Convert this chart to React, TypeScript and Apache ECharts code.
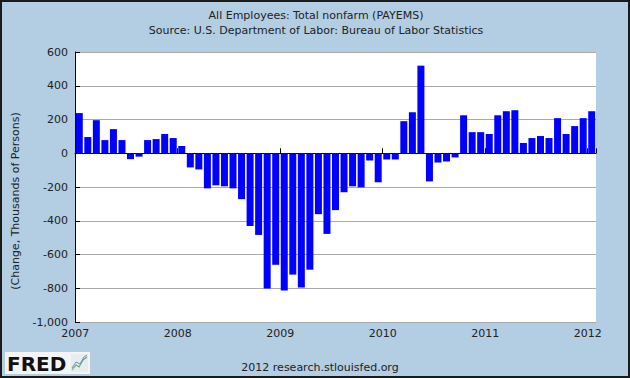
import React, { useEffect, useRef } from "react";
import * as echarts from "echarts";

const startYear = 2007;
const v2007 = [238, 96, 196, 78, 143, 78, -35, -20, 78, 84, 114, 90];
const v2008 = [43, -84, -96, -208, -190, -196, -208, -272, -431, -484, -802, -661];
const v2009 = [-813, -719, -796, -690, -361, -478, -337, -231, -196, -202, -43, -172];
const v2010 = [-37, -37, 190, 243, 519, -167, -55, -49, -25, 225, 125, 125];
const v2011 = [114, 225, 249, 255, 61, 90, 102, 90, 208, 114, 161, 208];
const v2012 = [249];

const values = [...v2007, ...v2008, ...v2009, ...v2010, ...v2011, ...v2012];
const categories = values.map((_, i) => {
  const y = startYear + Math.floor(i / 12);
  const m = (i % 12) + 1;
  return `${y}-${m < 10 ? "0" + m : m}`;
});

const titleLine1 = "All Employees: Total nonfarm (PAYEMS)";
const titleLine2 = "Source: U.S. Department of Labor: Bureau of Labor Statistics";
const yAxisTitle = "(Change, Thousands of Persons)";
const footer = "2012 research.stlouisfed.org";

const FONT = '"DejaVu Sans", sans-serif';

export default function App() {
  const ref = useRef<HTMLDivElement>(null);
  useEffect(() => {
    if (!ref.current) return;
    const chart = echarts.init(ref.current, null, { renderer: "svg" });
    chart.setOption({
      animation: false,
      backgroundColor: "#B3CDE3",
      grid: {
        left: 75,
        right: 34,
        top: 52,
        bottom: 56,
        containLabel: false,
        show: true,
        backgroundColor: "#FFFFFF",
        borderWidth: 0,
      },
      xAxis: {
        type: "category",
        data: categories,
        boundaryGap: true,
        axisLine: { show: true, lineStyle: { color: "#000", width: 1 } },
        axisTick: {
          show: true,
          inside: true,
          length: 5,
          interval: (i: number) => i % 12 === 0,
          lineStyle: { color: "#000" },
        },
        axisLabel: {
          interval: (i: number) => i % 12 === 0,
          formatter: (v: string) => v.slice(0, 4),
          color: "#222",
          fontFamily: FONT,
          fontSize: 11,
          margin: 6,
          padding: [0, 8, 0, 0],
        },
        splitLine: { show: false },
      },
      yAxis: {
        type: "value",
        min: -1000,
        max: 600,
        interval: 200,
        axisLine: { show: true, lineStyle: { color: "#000", width: 1 } },
        axisTick: { show: true, inside: true, length: 5, lineStyle: { color: "#000" } },
        axisLabel: {
          formatter: (v: number) => v.toLocaleString("en-US"),
          color: "#222",
          fontFamily: FONT,
          fontSize: 11,
          margin: 7,
        },
        splitLine: { show: true, lineStyle: { color: "#AAAAAA", width: 1 } },
      },
      series: [
        {
          type: "bar",
          data: values,
          barCategoryGap: "18%",
          itemStyle: { color: "#0000FF" },
        },
      ],
      graphic: [
        {
          type: "text",
          x: 316,
          y: 15,
          style: { text: titleLine1, fill: "#222", font: `11px ${FONT}`, textAlign: "center", textVerticalAlign: "middle" },
        },
        {
          type: "text",
          x: 316,
          y: 30,
          style: { text: titleLine2, fill: "#222", font: `11px ${FONT}`, textAlign: "center", textVerticalAlign: "middle" },
        },
        {
          type: "text",
          x: 15,
          y: 201,
          rotation: Math.PI / 2,
          style: { text: yAxisTitle, fill: "#222", font: `11px ${FONT}`, textAlign: "center", textVerticalAlign: "middle" },
        },
        {
          type: "text",
          x: 320,
          y: 367,
          style: { text: footer, fill: "#222", font: `11px ${FONT}`, textAlign: "center", textVerticalAlign: "middle" },
        },
        {
          type: "rect",
          shape: { x: 5, y: 352, width: 85, height: 22 },
          style: { fill: "#F4F4F4" },
        },
        {
          type: "text",
          x: 7,
          y: 363.5,
          style: { text: "FRED", fill: "#111", font: `bold 20px ${FONT}`, textAlign: "left", textVerticalAlign: "middle" },
        },
        {
          type: "rect",
          shape: { x: 71, y: 354, width: 17, height: 18 },
          style: { fill: "#E6ECEF" },
        },
        {
          type: "polyline",
          shape: { points: [[72, 370], [76, 365], [79, 367], [83, 360], [87, 357]] },
          style: { stroke: "#6FA86A", lineWidth: 1.2, fill: "none" },
        },
        {
          type: "polyline",
          shape: { points: [[72, 368], [76, 362], [80, 364], [84, 357], [87, 355]] },
          style: { stroke: "#6E8FC0", lineWidth: 1, fill: "none" },
        },
        {
          type: "rect",
          shape: { x: 1, y: 1, width: 628, height: 376 },
          style: { fill: "none", stroke: "#1A1A1A", lineWidth: 2 },
        },
      ],
    });
    return () => chart.dispose();
  }, []);
  return (
    <div
      ref={ref}
      style={{ position: "fixed", left: 0, top: 0, width: 630, height: 378 }}
    />
  );
}
